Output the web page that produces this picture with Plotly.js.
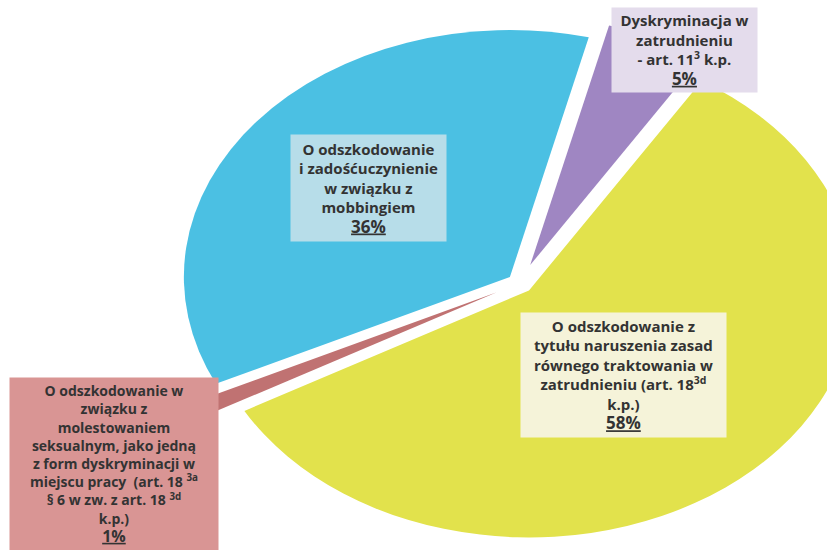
<!DOCTYPE html>
<html>
<head>
<meta charset="utf-8">
<script src="https://cdn.plot.ly/plotly-3.0.1.min.js"></script>
<style>html,body{margin:0;padding:0;background:#fff;}#chart{width:827px;height:550px;}</style>
</head>
<body>
<div id="chart"></div>
<script>
// Data
var categories = [
  "Dyskryminacja w zatrudnieniu - art. 11³ k.p.",
  "O odszkodowanie z tytułu naruszenia zasad równego traktowania w zatrudnieniu (art. 18³ᵈ k.p.)",
  "O odszkodowanie w związku z molestowaniem seksualnym, jako jedną z form dyskryminacji w miejscu pracy (art. 18³ᵃ § 6 w zw. z art. 18³ᵈ k.p.)",
  "O odszkodowanie i zadośćuczynienie w związku z mobbingiem"
];
var values = [5, 58, 1, 36];
var percentLabels = ["5%", "58%", "1%", "36%"];
var sliceColors = ["#9f86c2", "#e2e24c", "#c07272", "#4bc0e3"];
var pulls = [0.08, 0.04, 0.08, 0.04];

var labelTexts = [
  "Dyskryminacja w<br>zatrudnieniu<br>- art. 11<sup>3</sup> k.p.",
  "O odszkodowanie z<br>tytułu naruszenia zasad<br>równego traktowania w<br>zatrudnieniu (art. 18<sup>3d</sup><br>k.p.)",
  "O odszkodowanie w<br>związku z<br>molestowaniem<br>seksualnym, jako jedną<br>z form dyskryminacji w<br>miejscu pracy  (art. 18 <sup>3a</sup><br>§ 6 w zw. z art. 18 <sup>3d</sup><br>k.p.)",
  "O odszkodowanie<br>i zadośćuczynienie<br>w związku z<br>mobbingiem"
];
var labelBg = ["#e4dcec", "#f5f3d9", "#d99594", "#b7dde9"];
var labelFontSizes = [15, 15, 14, 15];
var pctFontSizes = [17, 17, 16, 17];

var W = 827, H = 550;
// box placement [left, top, width, height] in px
var boxes = [
  [612, 8, 145, 84],
  [521, 313, 205, 124],
  [10, 378, 208, 172],
  [291, 135, 155, 106]
];

var annotations = labelTexts.map(function(t, i){
  var b = boxes[i];
  return {
    text: "<b>" + t + "<br><span style='font-size:" + pctFontSizes[i] + "px'><u>" + percentLabels[i] + "</u></span></b>",
    xref: "paper", yref: "paper",
    x: (b[0] + b[2]/2) / W, y: 1 - (b[1] + b[3]/2) / H,
    xanchor: "center", yanchor: "middle",
    width: b[2], height: b[3],
    showarrow: false,
    align: "center", valign: "middle",
    bgcolor: labelBg[i],
    borderpad: 0,
    font: {family: "Open Sans, Lato, sans-serif", size: labelFontSizes[i], color: "#333333"}
  };
});

var cxFrac = 520 / W;
var domY = [0, 0.97];
var halfH = (domY[1] - domY[0]) * H / 2;
var dx = halfH / W;

var data = [{
  type: "pie",
  labels: categories,
  values: values,
  sort: false,
  direction: "clockwise",
  rotation: 14,
  pull: pulls,
  marker: {colors: sliceColors, line: {width: 0}},
  textinfo: "none",
  hoverinfo: "label+percent",
  showlegend: false,
  domain: {x: [cxFrac - dx, cxFrac + dx], y: domY}
}];

var layout = {
  width: W, height: H,
  margin: {l: 0, r: 0, t: 0, b: 0},
  paper_bgcolor: "#ffffff",
  plot_bgcolor: "#ffffff",
  showlegend: false,
  annotations: annotations
};

var gd = document.getElementById("chart");
function stretch(){
  var g = gd.querySelector(".pielayer");
  if (g) {
    var cx = cxFrac * W;
    g.setAttribute("transform", "translate(" + cx + ",0) scale(1.32,1) translate(" + (-cx) + ",0)");
  }
}
Plotly.newPlot(gd, data, layout, {displayModeBar: false, staticPlot: true}).then(stretch);
gd.on && gd.on("plotly_afterplot", stretch);
</script>
</body>
</html>
